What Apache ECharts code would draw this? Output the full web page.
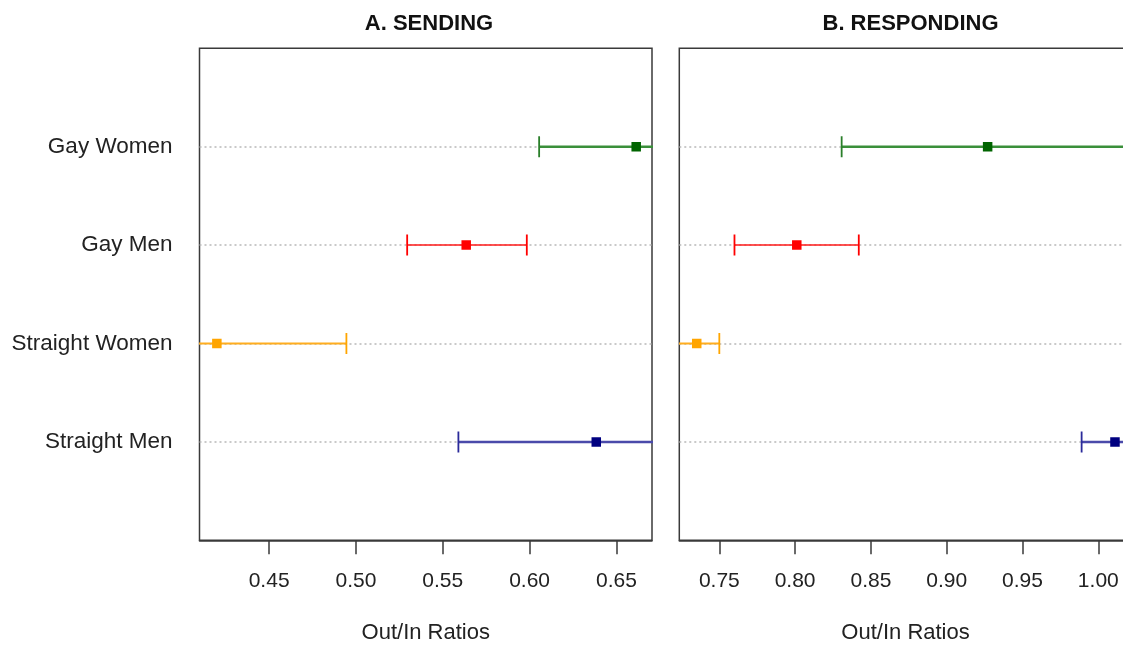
<!DOCTYPE html>
<html>
<head>
<meta charset="utf-8">
<script src="https://cdn.jsdelivr.net/npm/echarts@6/dist/echarts.min.js"></script>
<style>html,body{margin:0;padding:0;background:#fff;overflow:hidden;width:1123px;height:650px}#c{width:1145px;height:650px}</style>
</head>
<body>
<div id="c"></div>
<script>
// Categories, bottom to top (y positions 1..4)
const categories = ['Straight Men', 'Straight Women', 'Gay Men', 'Gay Women'];
const pointColors = ['#000080', '#ffa500', '#ff0000', '#006400'];
const lineColors = ['#4a4aaa', '#ffad1f', '#ff1a1a', '#3a8f3a'];
const capColors = ['#2a2a9a', '#ffa500', '#ff0000', '#2a7f2a'];

// Panel A: Sending (Out/In ratios) — bounds beyond the axis are estimates (clipped)
const sendingLow  = [0.559, 0.345, 0.5295, 0.6055];
const sendingEst  = [0.6384, 0.4199, 0.5635, 0.6614];
const sendingHigh = [0.718, 0.4945, 0.5984, 0.717];

// Panel B: Responding
const respondingLow  = [0.989, 0.720, 0.7600, 0.8307];
const respondingEst  = [1.011, 0.7351, 0.8011, 0.9270];
const respondingHigh = [1.033, 0.750, 0.8420, 1.034];

const ticksA = [0.45, 0.50, 0.55, 0.60, 0.65];
const ticksB = [0.75, 0.80, 0.85, 0.90, 0.95, 1.00];

const FONT = '"Liberation Sans", Arial, Helvetica, sans-serif';

function buildData(lo, est, hi) {
  return categories.map((c, i) => [i + 1, lo[i], est[i], hi[i], i]);
}

function renderItem(params, api) {
  const y = api.value(0);
  const lo = api.value(1), est = api.value(2), hi = api.value(3);
  const i = api.value(4);
  const a = api.coord([lo, y]);
  const b = api.coord([hi, y]);
  const m = api.coord([est, y]);
  const capH = 10.5;
  const sq = 9.5;
  const lw = [2.5, 2, 1.5, 2.5][i];
  return {
    type: 'group',
    children: [
      { type: 'line', shape: { x1: a[0], y1: a[1], x2: b[0], y2: b[1] },
        style: { stroke: lineColors[i], lineWidth: lw } },
      { type: 'line', shape: { x1: a[0], y1: a[1] - capH, x2: a[0], y2: a[1] + capH },
        style: { stroke: capColors[i], lineWidth: 1.8 } },
      { type: 'line', shape: { x1: b[0], y1: b[1] - capH, x2: b[0], y2: b[1] + capH },
        style: { stroke: capColors[i], lineWidth: 1.8 } },
      { type: 'rect', shape: { x: m[0] - sq / 2, y: m[1] - sq / 2, width: sq, height: sq },
        style: { fill: pointColors[i] } }
    ]
  };
}

function xAxisCfg(gridIndex, min, max, ticks) {
  return {
    type: 'value', gridIndex, min, max,
    name: 'Out/In Ratios', nameLocation: 'middle', nameGap: 82,
    nameTextStyle: { fontFamily: FONT, fontSize: 22, color: '#222' },
    axisLine: { show: true, lineStyle: { color: '#3a3a3a', width: 1.5 } },
    axisTick: { show: true, length: 14, customValues: ticks, lineStyle: { color: '#3a3a3a', width: 1.5 } },
    axisLabel: { show: true, customValues: ticks, margin: 30, fontFamily: FONT, fontSize: 21, color: '#222',
      formatter: v => v.toFixed(2) },
    splitLine: { show: false }
  };
}

function yAxisCfg(gridIndex, showLabels) {
  return {
    type: 'value', gridIndex, min: 0, max: 5, interval: 1,
    axisLine: { show: false }, axisTick: { show: false },
    axisLabel: { show: showLabels, margin: 27, fontFamily: FONT, fontSize: 22.5, color: '#222',
      padding: [9, 0, 0, 0],
      formatter: v => (v >= 1 && v <= 4) ? categories[v - 1] : '' },
    splitLine: { show: true, showMinLine: false, showMaxLine: false,
      lineStyle: { color: '#b8b8b8', width: 1.5, type: [2, 3] } }
  };
}

const chart = echarts.init(document.getElementById('c'), null, { renderer: 'canvas' });
chart.setOption({
  animation: false,
  backgroundColor: '#fff',
  title: [
    { text: 'A. SENDING', left: 424, top: 8, textAlign: 'center',
      textStyle: { fontFamily: FONT, fontSize: 22, fontWeight: 'bold', color: '#111' } },
    { text: 'B. RESPONDING', left: 905.5, top: 8, textAlign: 'center',
      textStyle: { fontFamily: FONT, fontSize: 22, fontWeight: 'bold', color: '#111' } }
  ],
  grid: [
    { left: 199.5, top: 48.3, width: 452.5, height: 492, show: true, borderColor: '#3a3a3a', borderWidth: 1.5, containLabel: false },
    { left: 679.3, top: 48.3, width: 452.5, height: 492, show: true, borderColor: '#3a3a3a', borderWidth: 1.5, containLabel: false }
  ],
  xAxis: [
    xAxisCfg(0, 0.4099, 0.6705, ticksA),
    xAxisCfg(1, 0.7236, 1.0221, ticksB)
  ],
  yAxis: [yAxisCfg(0, true), yAxisCfg(1, false)],
  series: [
    { type: 'custom', xAxisIndex: 0, yAxisIndex: 0, clip: true, renderItem,
      encode: { x: [1, 2, 3], y: 0 }, data: buildData(sendingLow, sendingEst, sendingHigh) },
    { type: 'custom', xAxisIndex: 1, yAxisIndex: 1, clip: true, renderItem,
      encode: { x: [1, 2, 3], y: 0 }, data: buildData(respondingLow, respondingEst, respondingHigh) }
  ]
});
</script>
</body>
</html>
